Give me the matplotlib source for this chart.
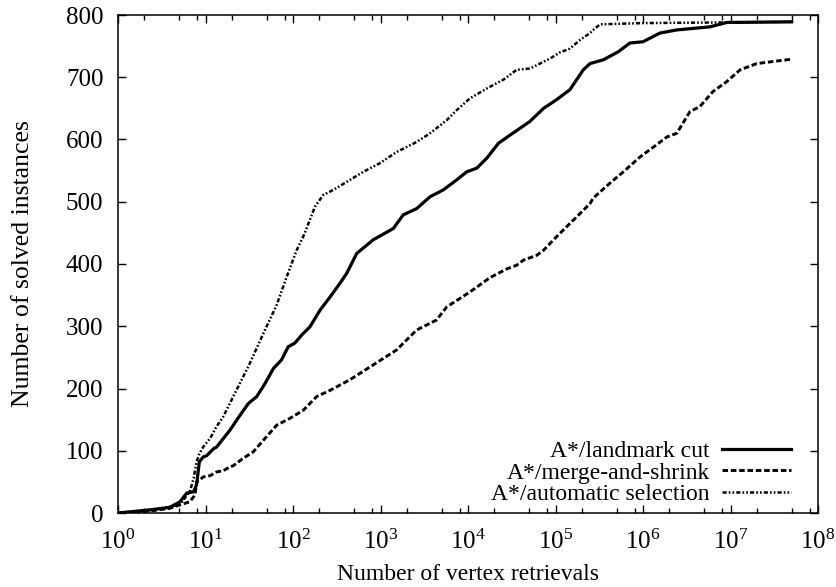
import matplotlib
matplotlib.use("Agg")
import matplotlib.pyplot as plt
from matplotlib.ticker import LogLocator, FixedLocator, NullFormatter

plt.rcParams['font.family'] = ['Liberation Serif', 'DejaVu Serif']
plt.rcParams['mathtext.fontset'] = 'custom'
plt.rcParams['mathtext.rm'] = 'Liberation Serif'
plt.rcParams['mathtext.it'] = 'Liberation Serif:italic'
plt.rcParams['lines.scale_dashes'] = False

# ---- data ----
lmcut_x = [1, 2.3, 3.9, 5.1, 6.1, 7.3, 7.9, 8.5, 9.4, 10.3, 12.3, 13.4, 19, 24.8, 30.9, 38.5,
           47.9, 59.6, 74, 88, 105, 126, 156, 204, 265, 344, 411, 535, 828, 1400, 1820, 2590,
           3680, 5210, 7410, 9660, 12600, 16400, 22300, 30200, 51000, 72900, 103000, 146000,
           208000, 248000, 352000, 522000, 708000, 1e6, 1.56e6, 2.43e6, 5.83e6, 9.06e6, 5e7]
lmcut_y = [0, 5, 9, 18, 32, 34, 45, 82, 90, 92, 103, 106, 133, 157, 176, 187,
           208, 232, 246, 267, 273, 286, 299, 326, 347, 369, 385, 417, 439, 457, 479, 489,
           508, 519, 535, 548, 554, 570, 594, 607, 629, 650, 664, 680,
           712, 722, 728, 741, 755, 757, 771, 776, 781, 788, 789]

ms_x = [1, 2.3, 3.9, 5.1, 6.6, 7.6, 7.9, 8.6, 9.4, 11.3, 13.4, 16, 19, 20.8, 27, 35, 46, 65,
        92, 131, 186, 265, 446, 828, 1530, 2590, 4370, 5710, 10500, 17800, 27600, 36000,
        42700, 61000, 72900, 103000, 146000, 248000, 270000, 420000, 596000, 925000,
        1.32e6, 1.87e6, 2.43e6, 3.45e6, 4.47e6, 6.3e6, 9.06e6, 1.29e7, 2.0e7, 5e7]
ms_y = [0, 3, 7.5, 13, 18, 29, 50, 53, 58, 60, 66, 68, 74, 76, 88, 98, 117, 141,
        152, 165, 187, 197, 214, 238, 262, 294, 310, 331, 355, 378, 392, 398,
        406, 414, 422, 444, 465, 497, 506, 530, 548, 572,
        588, 604, 610, 645, 653, 677, 693, 712, 722, 729]

auto_x = [1, 2.3, 3.9, 5.1, 6.1, 6.6, 7.3, 7.9, 8.5, 9.4, 11.3, 13.4, 16, 22.7, 32, 46, 65,
          85, 110, 131, 156, 178, 222, 289, 411, 635, 986, 1530, 2590, 3680, 5710, 7410,
          10500, 16400, 25300, 36000, 51000, 86500, 113000, 146000, 191000, 248000, 270000,
          323000, 1e6, 5e7]
auto_y = [0, 4, 10, 14, 28, 34, 55, 82, 95, 106, 120, 139, 155, 198, 240, 289, 334,
          380, 422, 444, 471, 492, 511, 519, 532, 548, 562, 580, 596, 610, 631, 647,
          666, 682, 696, 712, 714, 730, 740, 746, 760, 771, 776,
          785, 787, 789]

labels = ["A*/landmark cut", "A*/merge-and-shrink", "A*/automatic selection"]
x_ticks = [10**k for k in range(0, 9)]
y_ticks = list(range(0, 801, 100))

FS = 17

# ---- figure ----
fig = plt.figure(figsize=(8.36, 5.87), dpi=100)
ax = fig.add_axes([118/836, 1 - 513/587, 700/836, 498/587])

ax.plot(lmcut_x, lmcut_y, color='black', lw=2.3, ls='-', label=labels[0])
ax.plot(ms_x, ms_y, color='black', lw=2.1, ls=(0, (4.0, 2.0)), label=labels[1])
ax.plot(auto_x, auto_y, color='black', lw=1.8, ls=(0, (3.0, 1.5, 1.2, 1.5, 1.2, 1.5)), label=labels[2])

ax.set_xscale('log')
ax.set_xlim(1, 1e8)
ax.set_ylim(0, 800)
ax.xaxis.set_major_locator(FixedLocator(x_ticks))
ax.set_xticklabels([r'$\mathregular{10^{%d}}$' % k for k in range(0, 9)])
ax.xaxis.set_minor_locator(LogLocator(base=10, subs=(2, 5, 8), numticks=50))
ax.xaxis.set_minor_formatter(NullFormatter())
ax.yaxis.set_major_locator(FixedLocator(y_ticks))

ax.tick_params(which='both', direction='in', top=True, right=True, width=1.0, labelsize=FS + 1)
ax.tick_params(which='major', length=5.8)
ax.tick_params(which='minor', length=3.6)
ax.tick_params(axis='x', pad=12)
ax.tick_params(axis='y', pad=10.5)
for s in ax.spines.values():
    s.set_linewidth(1.1)

ax.set_xlabel("Number of vertex retrievals", fontsize=FS, labelpad=7)
ax.set_ylabel("Number of solved instances", fontsize=FS + 1.5, labelpad=23)

leg = ax.legend(loc='lower right', bbox_to_anchor=(0.962, 0.016), frameon=False,
                markerfirst=False, fontsize=FS, handlelength=2.95, handletextpad=0.5,
                borderpad=0, borderaxespad=0, labelspacing=0.0)

fig.savefig("out.png", dpi=100)
